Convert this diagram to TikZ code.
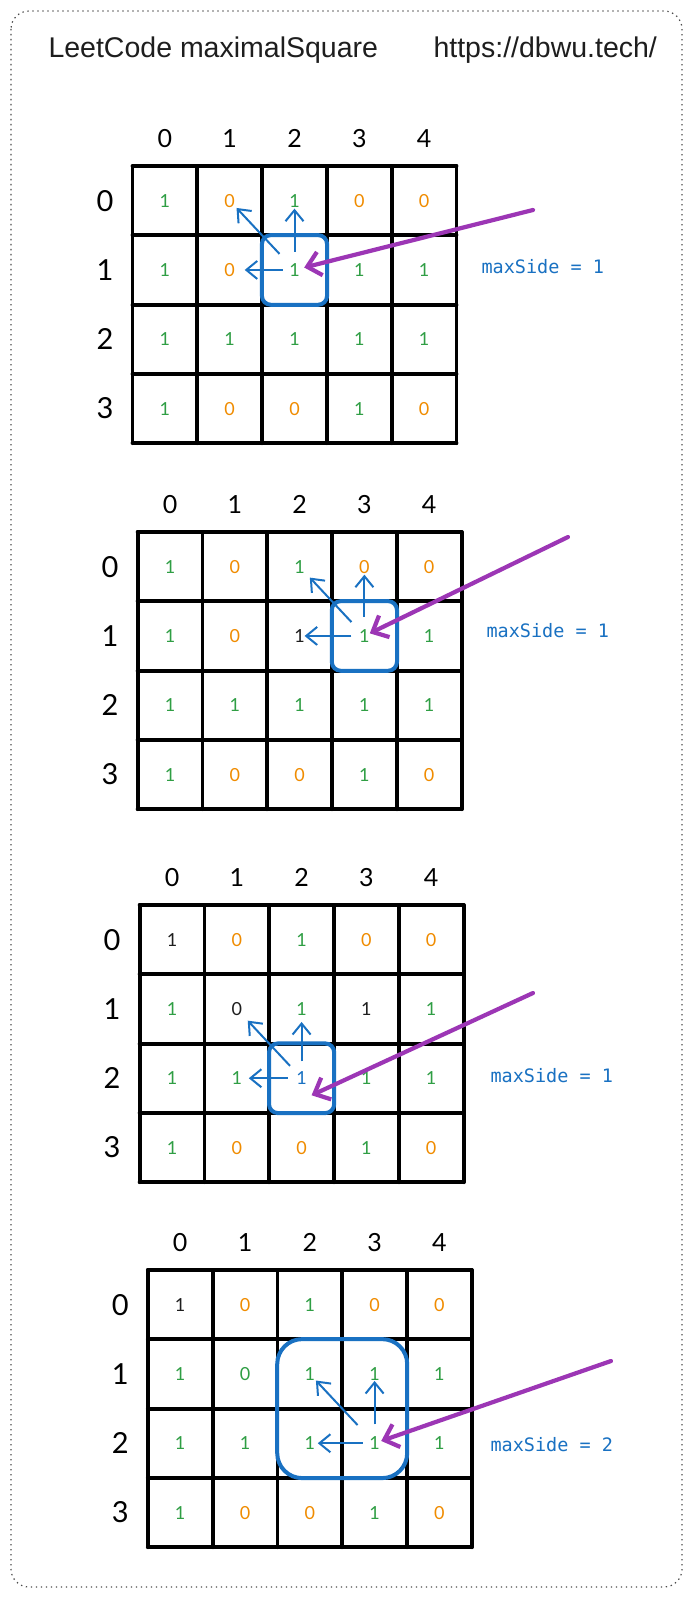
\documentclass[tikz,border=0pt]{standalone}
\usepackage{fontspec}
\setmainfont{Liberation Sans}
\newfontfamily\handfont{Lato}
\newfontfamily\codefont{DejaVu Sans Mono}
\usetikzlibrary{arrows.meta}
\definecolor{grn}{HTML}{2F9E44}
\definecolor{org}{HTML}{F08C00}
\definecolor{blu}{HTML}{1971C2}
\definecolor{pur}{HTML}{9C36B5}
\definecolor{blk}{HTML}{1E1E1E}

\begin{document}
\begin{tikzpicture}[x=1pt,y=-1pt]
\tikzset{cellbox/.style={minimum width=64.8pt, minimum height=69.3pt, inner sep=0pt, font=\handfont\fontsize{18}{18}\selectfont},
  gridline/.style={line width=3.8pt, line cap=round},
  colhead/.style={font=\handfont\fontsize{25}{25}\selectfont},
  rowhead/.style={font=\handfont\fontsize{29}{29}\selectfont},
  hibox/.style={draw=blu, line width=4pt, rounded corners=9pt},
  look/.style={draw=blu, line width=2pt, -{Straight Barb[length=11pt,width=18pt,line width=2pt]}},
  pointer/.style={draw=pur, line width=4.2pt, line cap=round, -{Straight Barb[length=13pt,width=24pt]}},
  maxlabel/.style={anchor=west, text=blu, font=\codefont\fontsize{18.5}{18.5}\selectfont},
  frame/.style={draw=black!70, line width=1.2pt, dash pattern=on 1.4pt off 3.6pt, rounded corners=18pt}}
\fill[white] (0,0) rectangle (692,1597);
\useasboundingbox (0,0) rectangle (692,1597);
\draw[frame] (11,11) rectangle (682,1587);
\node[anchor=base west, text=blk, font=\fontsize{28.5}{28.5}\selectfont] (title) at (45,58) {LeetCode maximalSquare};
\node[anchor=base west, text=blk, font=\fontsize{28.5}{28.5}\selectfont] (site) at (430,58) {https://dbwu.tech/};

% board 1
\begin{scope}[shift={(132.5,166)}]
\foreach \row/\vals in {0/{grn/1,org/0,grn/1,org/0,org/0}, 1/{grn/1,org/0,grn/1,grn/1,grn/1},
    2/{grn/1,grn/1,grn/1,grn/1,grn/1}, 3/{grn/1,org/0,org/0,grn/1,org/0}}
  \foreach \k/\v [count=\col from 0] in \vals
    \node[cellbox, text=\k] (g1-\row-\col) at (64.8*\col+32.4, 69.3*\row+34.65) {\v};
\foreach \i in {0,...,5} \draw[gridline] (64.8*\i,0) -- (64.8*\i,277.2);
\foreach \i in {0,...,4} \draw[gridline] (0,69.3*\i) -- (324,69.3*\i);
\foreach \i in {0,...,4} \node[colhead] (g1-h\i) at (64.8*\i+32.4,-27.5) {\i};
\foreach \i in {0,...,3} \node[rowhead] (g1-l\i) at (-27.5,69.3*\i+34.65) {\i};
\end{scope}
\draw[hibox] (g1-1-2.north west) rectangle (g1-1-2.south east);
\draw[look, shorten <=18pt, shorten >=8pt] (g1-1-2.center) -- (g1-0-2.center);
\draw[look, shorten <=22pt, shorten >=10pt] (g1-1-2.center) -- (g1-0-1.center);
\draw[look, shorten <=12pt, shorten >=15pt] (g1-1-2.center) -- (g1-1-1.center);
\coordinate (p1) at (533,210);
\draw[pointer, shorten >=10pt] (p1) -- (g1-1-2.center);
\node[maxlabel] (m1) at (478,267) {maxSide = 1};

% board 2
\begin{scope}[shift={(137.6,532)}]
\foreach \row/\vals in {0/{grn/1,org/0,grn/1,org/0,org/0}, 1/{grn/1,org/0,blk/1,grn/1,grn/1},
    2/{grn/1,grn/1,grn/1,grn/1,grn/1}, 3/{grn/1,org/0,org/0,grn/1,org/0}}
  \foreach \k/\v [count=\col from 0] in \vals
    \node[cellbox, text=\k] (g2-\row-\col) at (64.8*\col+32.4, 69.3*\row+34.65) {\v};
\foreach \i in {0,...,5} \draw[gridline] (64.8*\i,0) -- (64.8*\i,277.2);
\foreach \i in {0,...,4} \draw[gridline] (0,69.3*\i) -- (324,69.3*\i);
\foreach \i in {0,...,4} \node[colhead] (g2-h\i) at (64.8*\i+32.4,-27.5) {\i};
\foreach \i in {0,...,3} \node[rowhead] (g2-l\i) at (-27.5,69.3*\i+34.65) {\i};
\end{scope}
\draw[hibox] (g2-1-3.north west) rectangle (g2-1-3.south east);
\draw[look, shorten <=19pt, shorten >=8pt] (g2-1-3.center) -- (g2-0-3.center);
\draw[look, shorten <=19pt, shorten >=15pt] (g2-1-3.center) -- (g2-0-2.center);
\draw[look, shorten <=13pt, shorten >=5pt] (g2-1-3.center) -- (g2-1-2.center);
\coordinate (p2) at (568,537);
\draw[pointer, shorten >=6pt] (p2) -- (g2-1-3.center);
\node[maxlabel] (m2) at (483,631) {maxSide = 1};

% board 3
\begin{scope}[shift={(139.6,905)}]
\foreach \row/\vals in {0/{blk/1,org/0,grn/1,org/0,org/0}, 1/{grn/1,blk/0,grn/1,blk/1,grn/1},
    2/{grn/1,grn/1,blu/1,grn/1,grn/1}, 3/{grn/1,org/0,org/0,grn/1,org/0}}
  \foreach \k/\v [count=\col from 0] in \vals
    \node[cellbox, text=\k] (g3-\row-\col) at (64.8*\col+32.4, 69.3*\row+34.65) {\v};
\foreach \i in {0,...,5} \draw[gridline] (64.8*\i,0) -- (64.8*\i,277.2);
\foreach \i in {0,...,4} \draw[gridline] (0,69.3*\i) -- (324,69.3*\i);
\foreach \i in {0,...,4} \node[colhead] (g3-h\i) at (64.8*\i+32.4,-27.5) {\i};
\foreach \i in {0,...,3} \node[rowhead] (g3-l\i) at (-27.5,69.3*\i+34.65) {\i};
\end{scope}
\draw[hibox] (g3-2-2.north west) rectangle (g3-2-2.south east);
\draw[look, shorten <=17pt, shorten >=13pt] (g3-2-2.center) -- (g3-1-2.center);
\draw[look, shorten <=17pt, shorten >=16pt] (g3-2-2.center) -- (g3-1-1.center);
\draw[look, shorten <=14pt, shorten >=12pt] (g3-2-2.center) -- (g3-2-1.center);
\coordinate (p3) at (533,993);
\draw[pointer] (p3) -- ([xshift=10pt,yshift=-17pt]g3-2-2.center);
\node[maxlabel] (m3) at (487,1076) {maxSide = 1};

% board 4
\begin{scope}[shift={(147.8,1270)}]
\foreach \row/\vals in {0/{blk/1,org/0,grn/1,org/0,org/0}, 1/{grn/1,grn/0,grn/1,grn/1,grn/1},
    2/{grn/1,grn/1,grn/1,grn/1,grn/1}, 3/{grn/1,org/0,org/0,grn/1,org/0}}
  \foreach \k/\v [count=\col from 0] in \vals
    \node[cellbox, text=\k] (g4-\row-\col) at (64.8*\col+32.4, 69.3*\row+34.65) {\v};
\foreach \i in {0,...,5} \draw[gridline] (64.8*\i,0) -- (64.8*\i,277.2);
\foreach \i in {0,...,4} \draw[gridline] (0,69.3*\i) -- (324,69.3*\i);
\foreach \i in {0,...,4} \node[colhead] (g4-h\i) at (64.8*\i+32.4,-27.5) {\i};
\foreach \i in {0,...,3} \node[rowhead] (g4-l\i) at (-27.5,69.3*\i+34.65) {\i};
\end{scope}
\draw[hibox, rounded corners=25pt] (g4-1-2.north west) rectangle (g4-2-3.south east);
\draw[look, shorten <=19pt, shorten >=7pt] (g4-2-3.center) -- (g4-1-3.center);
\draw[look, shorten <=25pt, shorten >=9pt] (g4-2-3.center) -- (g4-1-2.center);
\draw[look, shorten <=12pt, shorten >=8pt] (g4-2-3.center) -- (g4-2-2.center);
\coordinate (p4) at (611,1361);
\draw[pointer, shorten >=7pt] (p4) -- (g4-2-3.center);
\node[maxlabel] (m4) at (487,1445) {maxSide = 2};
\end{tikzpicture}
\end{document}
